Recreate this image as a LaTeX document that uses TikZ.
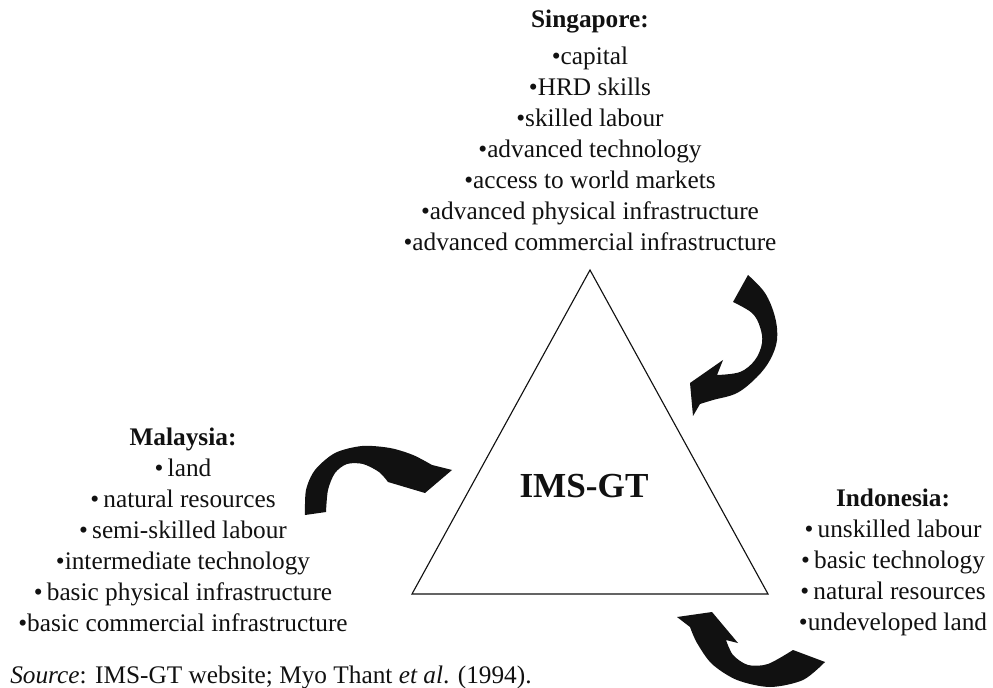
\documentclass[tikz,border=0pt]{standalone}
\usepackage{fontspec}
\setmainfont{Liberation Serif}
\usetikzlibrary{positioning, calc}
\definecolor{inkdark}{HTML}{111111}
\newcommand{\partnerbox}[4]{%
  \node[anchor=north, inner sep=0pt, align=center, text=inkdark,
        font=\fontsize{18}{22}\selectfont] (#1) at (#2,#3) {#4};}

\begin{document}
\begin{tikzpicture}[x=0.025cm, y=-0.025cm]
  \useasboundingbox (0,0) rectangle (993,688);
  % the growth triangle
  \coordinate (apex) at (590,270);
  \coordinate (bl) at (412,594);
  \coordinate (br) at (768,594);
  \draw[inkdark, line width=0.8pt] (apex) -- (bl) -- (br) -- cycle;
  \node[anchor=base, inner sep=0pt, text=inkdark,
        font=\fontsize{25}{30}\selectfont\bfseries] (hub) at (584,497) {IMS-GT};
  % the three partners
  \partnerbox{sg}{590}{10}{\textbf{Singapore:}\\[4pt]
    \textbullet capital\\ \textbullet HRD skills\\ \textbullet skilled labour\\
    \textbullet advanced technology\\ \textbullet access to world markets\\
    \textbullet advanced physical infrastructure\\
    \textbullet advanced commercial infrastructure}
  \partnerbox{my}{183}{428}{\textbf{Malaysia:}\\
    \textbullet\,land\\ \textbullet\,natural resources\\ \textbullet\,semi-skilled labour\\
    \textbullet intermediate technology\\ \textbullet\,basic physical infrastructure\\
    \textbullet basic commercial infrastructure}
  \partnerbox{id}{893}{489}{\textbf{Indonesia:}\\
    \textbullet\,unskilled labour\\ \textbullet\,basic technology\\
    \textbullet\,natural resources\\ \textbullet undeveloped land}
  \node[anchor=base west, inner sep=0pt, text=inkdark,
        font=\fontsize{18}{22}\selectfont] (src) at (10,683)
        {\textit{Source}: IMS-GT website; Myo Thant \textit{et al}. (1994).};
  % curved arrows
  \fill[inkdark] (748,275)
    -- plot[smooth, tension=0.6] coordinates {(748,275) (765,293) (775,317) (777,340) (770,360) (757,377) (737,393) (713,400) (700,404)}
    -- (693,416) -- (690,383) -- (723,360) -- (717,375)
    -- plot[smooth, tension=0.6] coordinates {(717,375) (740,372) (755,360) (762,343) (760,327) (752,313) (733,302)}
    -- cycle;
  \fill[inkdark] (305,515)
    -- plot[smooth] coordinates {(305,515) (306,490) (315,470) (335,453) (362,446) (390,448) (413,455) (432,465)}
    -- (452,470) -- (425,493) -- (388,482)
    -- plot[smooth] coordinates {(388,482) (379,472) (363,464) (347,464) (335,473) (328,490) (326,512)}
    -- cycle;
  \fill[inkdark] (825,662)
    -- plot[smooth] coordinates {(825,662) (803,680) (770,687) (737,680) (712,664) (697,643) (690,627)}
    -- (677,617) -- (712,612) -- (738,643) -- (726,640)
    -- plot[smooth] coordinates {(726,640) (733,655) (748,665) (768,664) (793,650)}
    -- cycle;
\end{tikzpicture}
\end{document}
